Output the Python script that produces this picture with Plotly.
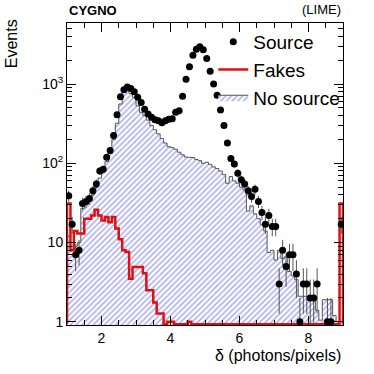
import numpy as np
import plotly.graph_objects as go

# ---- data (bins of 0.1 from 1.0 to 9.0) ----
bin_start = 1.0
bin_width = 0.1

source = [39, 17, 7, 8, 31, 33, 36, 45, 55, 80,
          84, 119, 145, 225, 410, 690, 850, 920, 880, 800,
          680, 585, 480, 420, 380, 355, 345, 325, 345, 360,
          365, 440, 460, 700, 1150, 1650, 2300, 2750, 2950, 2700,
          2100, 1450, 1000, 720, 470, 300, 180, 115, 98, 75,
          62, 55, 45, 38, 47, 33, 24, 17, 22, 16,
          16, 3, 8, 5, 7, 7, 4, 1, 3, 3,
          2, 2, 3, 0, 0, 1, 1, 0, 0, 17]

no_source = [12, 9, 9, 10, 27, 30, 33, 40, 50, 65,
             78, 105, 135, 200, 320, 560, 790, 830, 760, 680,
             530, 440, 400, 350, 300, 265, 235, 205, 180, 162,
             158, 150, 138, 128, 120, 119, 118, 112, 108, 100,
             103, 97, 90, 86, 80, 72, 56, 68, 60, 56,
             50, 46, 25, 29, 23, 20, 17, 14, 7.5, 8,
             6, 8, 6.3, 6.6, 4.3, 3.8, 3.4, 2.1, 2.1, 2.1,
             2.1, 2.0, 1.4, 1.05, 1.9, 1.9, 1.9, 1.2, 1.0, 1.0]

fakes = [31, 8, 14, 13, 13, 20, 20, 22, 26, 22,
         19, 21, 18, 21, 15, 11, 8, 7.6, 3.5, 4.9,
         4.9, 4.9, 4.1, 2.5, 2.5, 1.75, 1.27, 1.27, 0, 1,
         1, 0, 0, 0, 0, 1, 0, 0, 0, 0,
         0, 0, 0, 0, 0, 0, 0, 0, 0, 0,
         0, 0, 0, 0, 0, 0, 0, 0, 0, 0,
         0, 0, 0, 0, 0, 0, 0, 0, 0, 0,
         0, 0, 0, 0, 0, 0, 0, 0, 0, 31]

x_tick_vals = [2, 4, 6, 8]
y_tick_vals = [1, 10, 100, 1000]
y_tick_text = ["1", "10", "10<sup>2</sup>", "10<sup>3</sup>"]

# ---- derived ----
n = len(source)
edges = np.round(bin_start + bin_width * np.arange(n + 1), 4)
centers = edges[:-1] + bin_width / 2

Y_LOG_RANGE = [-0.04, 3.77]
floor = 10 ** (-0.03)


def step_xy(vals):
    v = [max(float(a), floor) for a in vals]
    xs = [edges[0]] + list(edges[:-1]) + [edges[-1], edges[-1]]
    ys = [floor] + v + [v[-1], floor]
    return xs, ys


FONT = "Liberation Sans, Arial, Helvetica, sans-serif"

fig = go.Figure()

xs, ys = step_xy(no_source)
fig.add_trace(go.Scatter(
    x=xs, y=ys, mode="lines", name="No source",
    line=dict(shape="hv", color="#555555", width=1),
    fill="tozeroy", fillcolor="white",
    fillpattern=dict(shape="/", fgcolor="#5c5cdc", bgcolor="white",
                     size=4, solidity=0.38),
))

xs, ys = step_xy(fakes)
fig.add_trace(go.Scatter(
    x=xs, y=ys, mode="lines", name="Fakes",
    line=dict(shape="hv", color="#e01010", width=2.5),
))

src_y = [v if v > 0 else None for v in source]
err_hi = [np.sqrt(v) if v > 0 else 0 for v in source]
err_lo = [(v - max(v - np.sqrt(v), 0.5)) if v > 0 else 0 for v in source]
fig.add_trace(go.Scatter(
    x=centers, y=src_y, mode="markers", name="Source",
    marker=dict(color="black", size=7, symbol="circle"),
    error_y=dict(type="data", array=err_hi, arrayminus=err_lo,
                 color="#555555", thickness=1, width=0),
))

fig.update_layout(
    width=374, height=374, autosize=False,
    margin=dict(l=67, r=31, t=23, b=49),
    paper_bgcolor="white", plot_bgcolor="white",
    font=dict(family=FONT, color="black", size=14),
    showlegend=True,
    legend=dict(x=0.53, y=1.0, xanchor="left", yanchor="top",
                traceorder="reversed", bgcolor="rgba(0,0,0,0)",
                font=dict(size=19, family=FONT), itemwidth=30,
                tracegroupgap=0),
)

fig.update_xaxes(
    range=[1, 9], showgrid=False, zeroline=False,
    showline=True, linecolor="black", linewidth=1, mirror="allticks",
    ticks="inside", ticklen=9, tickcolor="black",
    tickvals=x_tick_vals, tickfont=dict(size=14),
    minor=dict(ticks="inside", ticklen=5, dtick=0.5, tickcolor="black", showgrid=False),
)
fig.update_yaxes(
    type="log", range=Y_LOG_RANGE, showgrid=False, zeroline=False,
    showline=True, linecolor="black", linewidth=1, mirror="allticks",
    ticks="inside", ticklen=9, tickcolor="black",
    tickvals=y_tick_vals, ticktext=y_tick_text, tickfont=dict(size=14),
    minor=dict(ticks="inside", ticklen=5, dtick="D1", tickcolor="black", showgrid=False),
)

fig.add_annotation(text="δ (photons/pixels)", xref="paper", yref="paper",
                   x=1.0, y=-0.1, xanchor="right", yanchor="middle",
                   showarrow=False, font=dict(size=16))
fig.add_annotation(text="Events", xref="paper", yref="paper",
                   x=-0.2, y=1.02, xanchor="center", yanchor="top",
                   textangle=-90, showarrow=False, font=dict(size=16))
fig.add_annotation(text="<b>CYGNO</b>", xref="paper", yref="paper",
                   x=0.0, y=1.04, xanchor="left", yanchor="middle",
                   showarrow=False, font=dict(size=13))
fig.add_annotation(text="(LIME)", xref="paper", yref="paper",
                   x=1.0, y=1.045, xanchor="right", yanchor="middle",
                   showarrow=False, font=dict(size=13))

fig.write_html(
    "out.html",
    default_width="374px", default_height="374px",
    config={"displayModeBar": False, "responsive": False},
    post_script="document.body.style.margin='0';document.body.style.padding='0';"
                "document.body.style.overflow='hidden';"
                "document.documentElement.style.overflow='hidden';",
)
